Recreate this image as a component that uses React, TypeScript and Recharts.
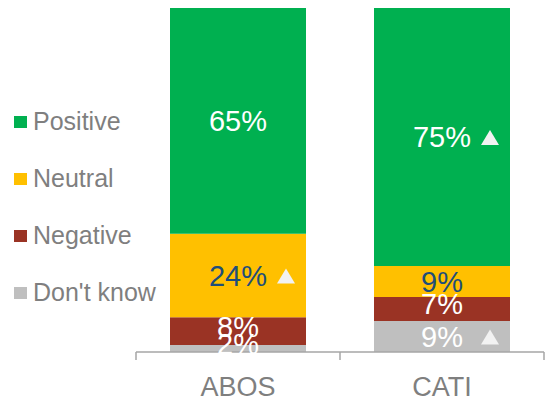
import { BarChart, Bar, XAxis, YAxis, Legend, LabelList } from "recharts"

const categories = ["ABOS", "CATI"]
const positive = [65, 75]
const neutral = [24, 9]
const negative = [8, 7]
const dontKnow = [2, 9]

// significance markers (white up-triangle next to the label)
const sigPositive = [false, true]
const sigNeutral = [true, false]
const sigNegative = [false, false]
const sigDontKnow = [false, true]

const data = categories.map((name, i) => ({
  name,
  dontKnow: dontKnow[i],
  negative: negative[i],
  neutral: neutral[i],
  positive: positive[i],
}))

const series = [
  { key: "dontKnow", name: "Don't know", color: "#BFBFBF", labelColor: "#FFFFFF", sig: sigDontKnow },
  { key: "negative", name: "Negative", color: "#9A3324", labelColor: "#FFFFFF", sig: sigNegative },
  { key: "neutral", name: "Neutral", color: "#FFC000", labelColor: "#1F4E79", sig: sigNeutral },
  { key: "positive", name: "Positive", color: "#00B050", labelColor: "#FFFFFF", sig: sigPositive },
]

const FONT = "'Liberation Sans', Arial, sans-serif"

function makeLabel(color: string, sig: boolean[]) {
  return (props: any) => {
    const { x, y, width, height, value, index } = props
    const cx = Number(x) + Number(width) / 2
    const h = Number(height)
    // thin segments: label sits a bit high, like the original
    const cy = Number(y) + h / 2 - (h < 30 ? 5 : 0)
    return (
      <g>
        <text x={cx} y={cy} dy="0.36em" textAnchor="middle" fill={color} fontSize={29} fontFamily={FONT}>
          {value}%
        </text>
        {sig[index] && (
          <polygon
            points={`${cx + 39},${cy + 8} ${cx + 57},${cy + 8} ${cx + 48},${cy - 7}`}
            fill="#F2F2F2"
          />
        )}
      </g>
    )
  }
}

function CategoryTick(props: any) {
  const { x, y, payload, index } = props
  const half = payload.offset ?? 102
  return (
    <g>
      <line x1={x - half} x2={x - half} y1={y} y2={y + 8} stroke="#A6A6A6" strokeWidth={1.5} />
      {index === categories.length - 1 && (
        <line x1={x + half} x2={x + half} y1={y} y2={y + 8} stroke="#A6A6A6" strokeWidth={1.5} />
      )}
      <text x={x} y={y + 44} textAnchor="middle" fill="#7F7F7F" fontSize={27} fontFamily={FONT}>
        {payload.value}
      </text>
    </g>
  )
}

function LegendContent() {
  const items = [...series].reverse()
  return (
    <div style={{ fontFamily: FONT }}>
      {items.map((s) => (
        <div key={s.key} style={{ height: 57, display: "flex", alignItems: "center" }}>
          <span style={{ display: "inline-block", width: 13, height: 12, background: s.color, marginRight: 6 }} />
          <span style={{ fontSize: 25, color: "#7F7F7F", whiteSpace: "nowrap" }}>{s.name}</span>
        </div>
      ))}
    </div>
  )
}

export default function App() {
  return (
    <div style={{ position: "absolute", left: 0, top: 0, width: 545, height: 405, background: "#fff" }}>
      <BarChart
        width={545}
        height={405}
        data={data}
        stackOffset="expand"
        margin={{ top: 8, right: 1, bottom: 0, left: 136 }}
      >
        <XAxis
          dataKey="name"
          height={53}
          axisLine={{ stroke: "#A6A6A6", strokeWidth: 1.5 }}
          tickLine={false}
          tickSize={0}
          tickMargin={0}
          interval={0}
          tick={<CategoryTick />}
        />
        <YAxis hide domain={[0, 1]} />
        <Legend
          layout="vertical"
          align="center"
          verticalAlign="middle"
          wrapperStyle={{ left: 14, top: 93, width: 150 }}
          content={<LegendContent />}
        />
        {series.map((s) => (
          <Bar key={s.key} dataKey={s.key} name={s.name} stackId="a" fill={s.color} barSize={136} isAnimationActive={false}>
            <LabelList dataKey={s.key} content={makeLabel(s.labelColor, s.sig)} />
          </Bar>
        ))}
      </BarChart>
    </div>
  )
}
